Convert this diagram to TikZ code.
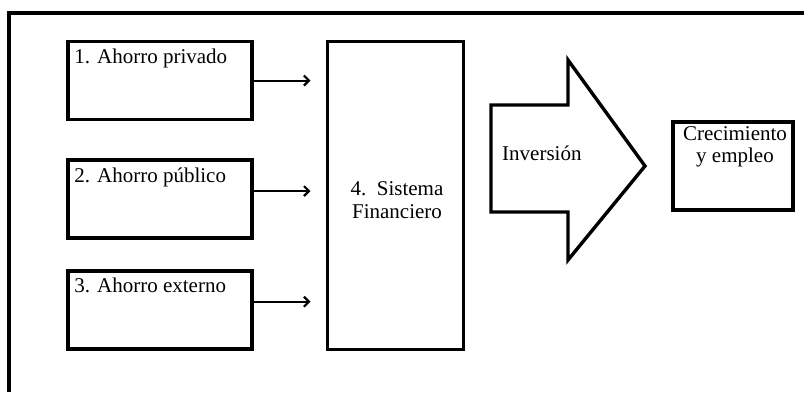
\documentclass[tikz,border=0pt]{standalone}
\usepackage{fontspec}
\setmainfont{Liberation Serif}
\usepackage{tikz}
\usetikzlibrary{arrows.meta,positioning}
\tikzset{
  frame/.style={draw,line width=3.4pt},
  savebox/.style={draw,line width=3.6pt,minimum width=184pt,minimum height=78pt,inner sep=0pt},
  finbox/.style={draw,line width=3pt,minimum width=136pt,minimum height=308pt,inner sep=0pt},
  growbox/.style={draw,line width=3.6pt,minimum width=120pt,minimum height=88pt,inner sep=0pt},
  bigarr/.style={draw,line width=3.4pt,line join=miter},
  txt/.style={inner sep=0pt,font=\fontsize{21}{22.5}\selectfont},
  arr/.style={-{Straight Barb[length=5pt,width=10pt,line width=2.2pt]},line width=2pt,shorten >=15pt},
}
\begin{document}
\begin{tikzpicture}[x=1pt,y=-1pt]
\useasboundingbox (0,0) rectangle (804,392);
% outer frame, cut by the page
\draw[frame] (9,392) -- (9,13) -- (804,13);
% savings
\node[savebox] (s1) at (160,80.5) {};
\node[savebox,below=37pt of s1] (s2) {};
\node[savebox,below=29pt of s2] (s3) {};
\path (s1.north west) ++(8,24) node[txt,anchor=base west] (t1) {1. Ahorro privado};
\path (s2.north west) ++(8,24) node[txt,anchor=base west] (t2) {2. Ahorro público};
\path (s3.north west) ++(8,24) node[txt,anchor=base west] (t3) {3. Ahorro externo};
% financial system
\node[finbox] (fin) at (395,195) {};
\path (fin.center) ++(2,5) node[txt,align=center] (tf) {4.\ \ Sistema\\Financiero};
\draw[arr] (s1.east) -- (s1.east -| fin.west);
\draw[arr] ([yshift=8pt]s2.east) -- ([yshift=8pt]s2.east -| fin.west);
\draw[arr] ([yshift=8pt]s3.east) -- ([yshift=8pt]s3.east -| fin.west);
% investment
\draw[bigarr] (491,105) -- (568,105) -- (568,60) -- (645,166) -- (568,260) -- (568,212) -- (491,212) -- cycle;
\node[txt,anchor=base west] (inv) at (502,160) {Inversión};
% growth
\node[growbox] (grow) at (733,166) {};
\path (grow.north) ++(2,6) node[txt,anchor=north,align=center] (tg) {Crecimiento\\y empleo};
\end{tikzpicture}
\end{document}
